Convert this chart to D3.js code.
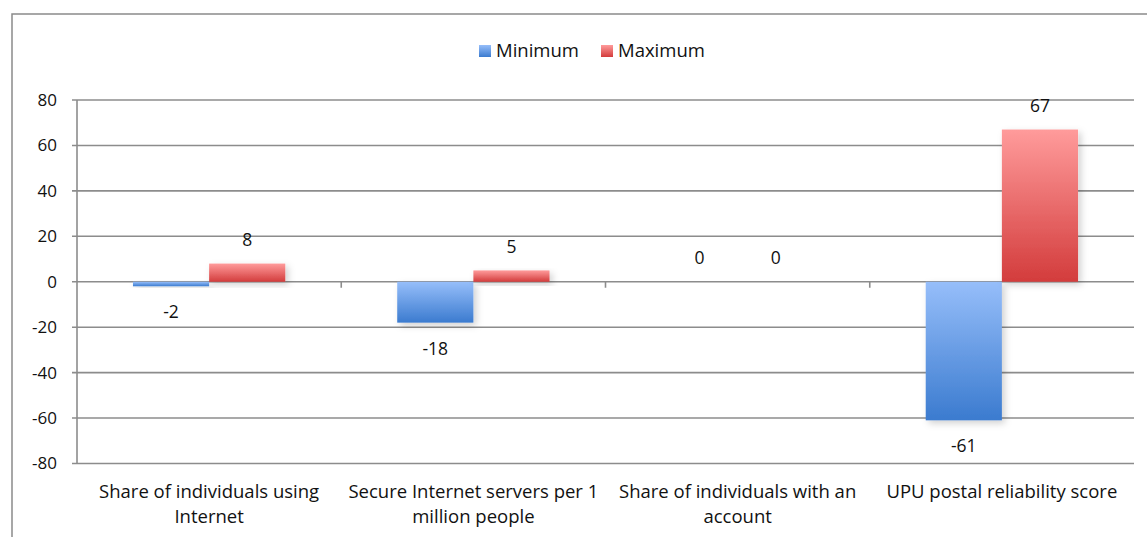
<!DOCTYPE html>
<html>
<head>
<meta charset="utf-8">
<script src="https://cdn.jsdelivr.net/npm/d3@7"></script>
<style>
  html, body { margin: 0; padding: 0; background: #fff; }
  svg { display: block; }
  text { font-family: "Open Sans", Lato, sans-serif; fill: #111; }
</style>
</head>
<body>
<svg id="chart" width="1147" height="537"></svg>
<script>
// Indicator categories (each split over two lines)
const categories = [
  ["Share of individuals using", "Internet"],
  ["Secure Internet servers per 1", "million people"],
  ["Share of individuals with an", "account"],
  ["UPU postal reliability score"]
];
const seriesNames = ["Minimum", "Maximum"];
const minimumValues = [-2, -18, 0, -61];
const maximumValues = [8, 5, 0, 67];
const yTicks = [80, 60, 40, 20, 0, -20, -40, -60, -80];

const W = 1147, H = 537;
const margin = { left: 77, right: 13, top: 100, bottom: 74 };

const svg = d3.select("#chart");
const defs = svg.append("defs");

// Vertical gradients: light near the top, darker towards the bottom
function gradient(id, top, bottom) {
  const g = defs.append("linearGradient").attr("id", id)
    .attr("x1", 0).attr("y1", 0).attr("x2", 0).attr("y2", 1);
  g.append("stop").attr("offset", "0%").attr("stop-color", top);
  g.append("stop").attr("offset", "100%").attr("stop-color", bottom);
}
gradient("gradMin", "#96befa", "#3b7bcf");
gradient("gradMax", "#ff9b9b", "#d33c3c");

const shadow = defs.append("filter").attr("id", "barShadow")
  .attr("x", "-20%").attr("y", "-20%").attr("width", "150%").attr("height", "150%");
shadow.append("feDropShadow").attr("dx", 3).attr("dy", 3).attr("stdDeviation", 3.5)
  .attr("flood-color", "#000").attr("flood-opacity", 0.18);

// Outer chart frame
svg.append("rect").attr("x", 12).attr("y", 14)
  .attr("width", W + 20).attr("height", H)
  .attr("fill", "none").attr("stroke", "#8a8a8a").attr("stroke-width", 1.5);

const x0 = d3.scaleBand()
  .domain(d3.range(categories.length))
  .range([margin.left, W - margin.right])
  .paddingInner(0).paddingOuter(0);

const x1 = d3.scaleBand()
  .domain(seriesNames)
  .range([0, x0.bandwidth()])
  .paddingInner(0)
  .paddingOuter(0.735);

const y = d3.scaleLinear().domain([-80, 80]).range([H - margin.bottom + 0.5, margin.top]);

// Horizontal gridlines
svg.append("g").selectAll("line").data(yTicks).join("line")
  .attr("x1", margin.left - 5).attr("x2", W - margin.right)
  .attr("y1", d => y(d)).attr("y2", d => y(d))
  .attr("stroke", "#8c8c8c").attr("stroke-width", 1.6);

// Y axis line
svg.append("line")
  .attr("x1", margin.left).attr("x2", margin.left)
  .attr("y1", y(80)).attr("y2", y(-80))
  .attr("stroke", "#8c8c8c").attr("stroke-width", 1.6);

// Y tick labels
svg.append("g").selectAll("text").data(yTicks).join("text")
  .attr("x", margin.left - 20).attr("y", d => y(d))
  .attr("dy", "0.35em").attr("text-anchor", "end")
  .style("font-size", "17px")
  .text(d => d);

// Category separators on the zero line
svg.append("g").selectAll("line").data(d3.range(1, categories.length)).join("line")
  .attr("x1", d => x0(d)).attr("x2", d => x0(d))
  .attr("y1", y(0)).attr("y2", y(0) + 6)
  .attr("stroke", "#8c8c8c").attr("stroke-width", 1.6);

const rows = categories.map((c, i) => ({
  i,
  values: [
    { s: "Minimum", v: minimumValues[i], fill: "url(#gradMin)" },
    { s: "Maximum", v: maximumValues[i], fill: "url(#gradMax)" }
  ]
}));

const groups = svg.append("g").selectAll("g").data(rows).join("g")
  .attr("transform", d => `translate(${x0(d.i)},0)`);

groups.selectAll("rect").data(d => d.values.filter(v => v.v !== 0)).join("rect")
  .attr("x", d => x1(d.s))
  .attr("width", x1.bandwidth())
  .attr("y", d => Math.min(y(d.v), y(0)))
  .attr("height", d => Math.abs(y(d.v) - y(0)))
  .attr("fill", d => d.fill)
  .attr("filter", "url(#barShadow)");

// Value labels outside the bar end
groups.selectAll("text").data(d => d.values).join("text")
  .attr("x", d => x1(d.s) + x1.bandwidth() / 2)
  .attr("y", d => d.v < 0 ? y(d.v) + 26 : y(d.v) - 24)
  .attr("dy", "0.35em")
  .attr("text-anchor", "middle")
  .style("font-size", "17.5px")
  .text(d => d.v);

// Category labels
const catLabels = svg.append("g").selectAll("text").data(categories).join("text")
  .attr("x", (d, i) => x0(i) + x0.bandwidth() / 2)
  .attr("y", 492)
  .attr("text-anchor", "middle")
  .style("font-size", "18.5px");
catLabels.selectAll("tspan").data(d => d).join("tspan")
  .attr("x", function() { return d3.select(this.parentNode).attr("x"); })
  .attr("dy", (d, i) => i === 0 ? "0.35em" : "25px")
  .text(d => d);

// Legend
const legend = svg.append("g");
const legendItems = [
  { name: "Minimum", fill: "url(#gradMin)", x: 479 },
  { name: "Maximum", fill: "url(#gradMax)", x: 601 }
];
legendItems.forEach(it => {
  legend.append("rect").attr("x", it.x).attr("y", 45).attr("width", 12).attr("height", 12)
    .attr("fill", it.fill);
  legend.append("text").attr("x", it.x + 17).attr("y", 51).attr("dy", "0.35em")
    .style("font-size", "18.5px").text(it.name);
});
</script>
</body>
</html>
